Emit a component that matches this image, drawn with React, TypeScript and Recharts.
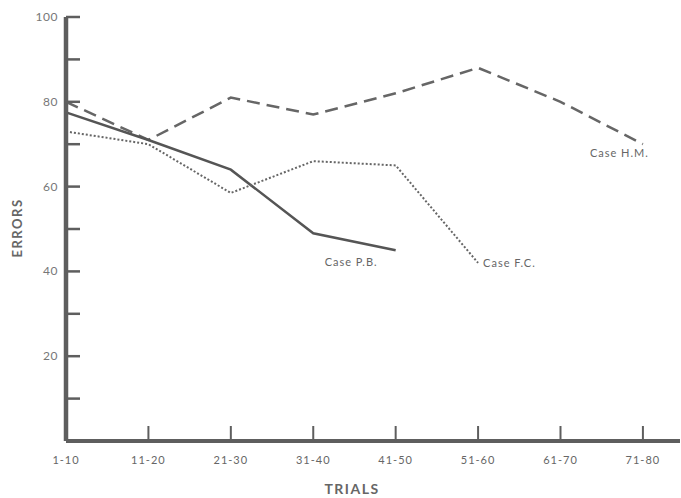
import React from "react";
import { LineChart, Line, XAxis, YAxis, LabelList } from "recharts";

const trials = ["1-10", "11-20", "21-30", "31-40", "41-50", "51-60", "61-70", "71-80"];
const caseHM = [80, 71, 81, 77, 82, 88, 80, 70];
const casePB = [77.5, 71, 64, 49, 45];
const caseFC = [73, 70, 58.5, 66, 65, 42];
const yTicks = [0, 10, 20, 30, 40, 50, 60, 70, 80, 90, 100];
const yLabeled = [20, 40, 60, 80, 100];

const data = trials.map((t, i) => ({
  x: i,
  trial: t,
  hm: caseHM[i] ?? null,
  pb: casePB[i] ?? null,
  fc: caseFC[i] ?? null,
}));

const INK = "#5e5e5e";
const FONT = "Lato, 'Open Sans', sans-serif";

function YTick(props: any) {
  const { x, y, payload } = props;
  const v = payload.value;
  if (v === 0) return null;
  return (
    <g>
      <line x1={x} y1={y} x2={x + 14} y2={y} stroke={INK} strokeWidth={2.5} />
      {yLabeled.includes(v) && (
        <text x={x - 8} y={y + 4} textAnchor="end" fontSize={12} fill="#777" fontFamily={FONT} letterSpacing={0.5}>
          {v}
        </text>
      )}
    </g>
  );
}

function XTick(props: any) {
  const { x, y, payload } = props;
  const i = payload.value;
  return (
    <g>
      {i > 0 && <line x1={x} y1={y} x2={x} y2={y - 15} stroke={INK} strokeWidth={2} />}
      <text x={x} y={y + 23} textAnchor="middle" fontSize={11} fill="#666" fontFamily={FONT} letterSpacing={1}>
        {trials[i]}
      </text>
    </g>
  );
}

const endLabel = (name: string, last: number, dx: number, dy: number, anchor: string) => (props: any) => {
  const { x, y, index } = props;
  if (index !== last) return null;
  return (
    <text x={x + dx} y={y + dy} textAnchor={anchor} fontSize={11} fill="#666" fontFamily={FONT} letterSpacing={1}>
      {name}
    </text>
  );
};

export default function App() {
  return (
    <div style={{ position: "absolute", left: 0, top: 0, width: 681, height: 498, background: "#fff" }}>
      <LineChart width={681} height={498} data={data} margin={{ top: 17, right: 1, bottom: 0, left: 0 }}>
        <XAxis
          dataKey="x"
          type="number"
          domain={[0, 7.45]}
          ticks={[0, 1, 2, 3, 4, 5, 6, 7]}
          height={57}
          tickLine={false}
          tickSize={0}
          tickMargin={0}
          axisLine={{ stroke: INK, strokeWidth: 4 }}
          tick={<XTick />}
          interval={0}
        />
        <YAxis
          type="number"
          domain={[0, 100]}
          ticks={yTicks}
          width={66}
          tickLine={false}
          tickSize={0}
          tickMargin={0}
          axisLine={{ stroke: INK, strokeWidth: 4.5 }}
          tick={<YTick />}
          interval={0}
        />
        <Line
          dataKey="hm"
          stroke="#666"
          strokeWidth={2.5}
          strokeDasharray="13 7"
          dot={false}
          isAnimationActive={false}
        >
          <LabelList dataKey="hm" content={endLabel("Case H.M.", 7, -53, 13, "start")} />
        </Line>
        <Line
          dataKey="pb"
          stroke="#555"
          strokeWidth={2.5}
          dot={false}
          isAnimationActive={false}
        >
          <LabelList dataKey="pb" content={endLabel("Case P.B.", 4, -71, 16, "start")} />
        </Line>
        <Line
          dataKey="fc"
          stroke="#666"
          strokeWidth={2}
          strokeDasharray="2 2"
          dot={false}
          isAnimationActive={false}
        >
          <LabelList dataKey="fc" content={endLabel("Case F.C.", 5, 5, 4, "start")} />
        </Line>
        <text
          x={22}
          y={228}
          transform="rotate(-90 22 228)"
          textAnchor="middle"
          fontSize={13}
          fontWeight="bold"
          fill="#666"
          fontFamily={FONT}
          letterSpacing={1.5}
        >
          ERRORS
        </text>
        <text
          x={352}
          y={494}
          textAnchor="middle"
          fontSize={14}
          fontWeight="bold"
          fill="#666"
          fontFamily={FONT}
          letterSpacing={1.5}
        >
          TRIALS
        </text>
      </LineChart>
    </div>
  );
}
